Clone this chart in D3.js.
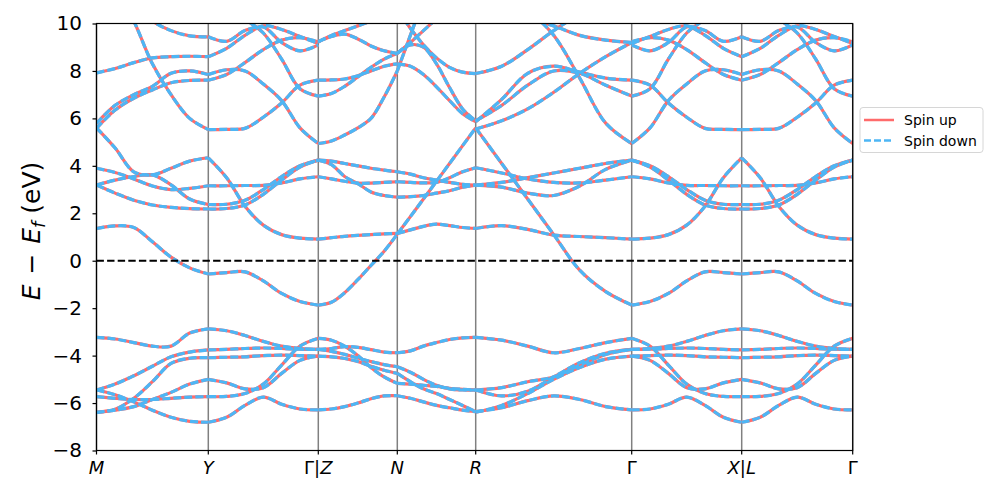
<!DOCTYPE html>
<html>
<head>
<meta charset="utf-8">
<script src="https://cdn.jsdelivr.net/npm/d3@7"></script>
<style>
  body { margin: 0; background: #fff; }
  svg { font-family: "DejaVu Sans", sans-serif; }
</style>
</head>
<body>
<div id="chart"></div>
<script>
// high-symmetry path
var kLabels = ["M", "Y", "Γ|Z", "N", "R", "Γ", "X|L", "Γ"];
var kTicks = [0, 1.118, 2.218, 3.008, 3.792, 5.352, 6.452, 7.562];
var yTicks = [-8, -6, -4, -2, 0, 2, 4, 6, 8, 10];

// band energies (eV) sampled evenly along each segment
var bandsMY = [
  [1.36, 1.47, 1.40, 0.80, 0.15, -0.30, -0.56],
  [5.6, 4.75, 3.75, 3.62, 3.9, 4.2, 4.34],
  [3.19, 3.4, 3.55, 3.62, 3.2, 2.6, 2.37],
  [3.90, 3.72, 3.45, 3.15, 3.0, 3.05, 3.16],
  [3.19, 2.85, 2.55, 2.35, 2.25, 2.2, 2.18],
  [7.92, 8.1, 8.35, 8.55, 8.6, 8.62, 8.6],
  [5.79, 6.55, 7.0, 7.35, 7.9, 8.0, 7.85],
  [5.58, 6.35, 6.85, 7.2, 7.5, 7.6, 7.61],
  [13, 11.5, 10.1, 8.3, 7.0, 6.0, 5.53],
  [12, 11.4, 10.8, 10.1, 9.7, 9.48, 9.44],
  [-3.23, -3.3, -3.45, -3.6, -3.6, -3.05, -2.87],
  [-5.45, -5.2, -4.85, -4.45, -4.05, -3.85, -3.76],
  [-6.39, -6.26, -5.8, -5.1, -4.33, -4.11, -4.09],
  [-5.73, -5.8, -5.85, -5.85, -5.8, -5.75, -5.73],
  [-5.45, -5.65, -5.95, -6.3, -6.6, -6.77, -6.81],
  [-6.39, -6.3, -6.15, -5.85, -5.55, -5.2, -5.0]
];

var bandsYZ = [
  [-0.56, -0.5, -0.47, -0.85, -1.38, -1.72, -1.87],
  [4.34, 3.5, 2.3, 1.5, 1.1, 0.95, 0.91],
  [2.37, 2.38, 2.55, 3.0, 3.55, 4.0, 4.24],
  [2.18, 2.2, 2.35, 2.8, 3.4, 3.95, 4.24],
  [3.16, 3.16, 3.17, 3.18, 3.28, 3.45, 3.54],
  [5.53, 5.54, 5.58, 6.05, 6.65, 7.4, 7.61],
  [7.85, 8.05, 8.0, 7.45, 6.75, 5.6, 4.94],
  [7.61, 7.85, 8.35, 8.9, 9.3, 9.4, 9.23],
  [8.6, 8.95, 9.5, 9.9, 9.75, 9.45, 9.16],
  [9.44, 9.25, 9.7, 9.85, 9.2, 8.85, 9.1],
  [11.5, 11, 10.2, 9.6, 8.5, 7.25, 6.94],
  [-2.87, -2.95, -3.15, -3.4, -3.6, -3.7, -3.74],
  [-3.76, -3.74, -3.7, -3.68, -3.7, -3.73, -3.74],
  [-4.09, -4.07, -4.05, -4.0, -3.98, -4.0, -4.02],
  [-5.0, -5.15, -5.4, -5.35, -4.75, -4.2, -4.02],
  [-5.73, -5.72, -5.6, -5.2, -4.4, -3.6, -3.27],
  [-6.81, -6.6, -6.1, -5.75, -6.05, -6.25, -6.29]
];

var bandsZN = [
  [-1.87, -1.75, -1.35, -0.8, -0.2, 0.4, 1.12],
  [0.91, 0.97, 1.03, 1.07, 1.1, 1.13, 1.15],
  [4.24, 4.2, 4.1, 4.0, 3.9, 3.82, 3.75],
  [4.24, 4.05, 3.55, 3.25, 2.9, 2.75, 2.68],
  [3.54, 3.45, 3.35, 3.27, 3.27, 3.3, 3.33],
  [4.94, 5.05, 5.3, 5.6, 6.0, 6.9, 8.0],
  [6.94, 7.05, 7.35, 7.75, 8.15, 8.5, 8.74],
  [7.61, 7.62, 7.66, 7.8, 8.0, 8.2, 8.3],
  [9.23, 9.45, 9.55, 9.35, 9.05, 8.85, 8.74],
  [9.23, 9.5, 9.7, 9.9, 10.1, 10.3, 10.5],
  [-3.27, -3.35, -3.6, -4.0, -4.5, -4.9, -5.17],
  [-3.74, -3.7, -3.62, -3.65, -3.75, -3.85, -3.88],
  [-3.74, -3.82, -3.95, -4.1, -4.25, -4.38, -4.47],
  [-4.02, -4.05, -4.12, -4.25, -4.45, -4.62, -4.75],
  [-6.29, -6.25, -6.15, -6.0, -5.82, -5.7, -5.69]
];

var bandsNR = [
  [1.12, 1.86, 2.6, 3.35, 4.1, 4.85, 5.6],
  [1.15, 1.3, 1.45, 1.54, 1.48, 1.4, 1.36],
  [3.75, 3.65, 3.5, 3.4, 3.3, 3.22, 3.19],
  [3.33, 3.3, 3.28, 3.3, 3.5, 3.75, 3.92],
  [2.68, 2.7, 2.75, 2.85, 2.95, 3.1, 3.19],
  [8.0, 9.5, 11, 12.5, 13, 13, 13],
  [8.3, 8.2, 7.85, 7.33, 6.75, 6.2, 5.86],
  [8.74, 9.1, 9.0, 8.3, 7.3, 6.4, 5.9],
  [8.74, 9.2, 9.7, 10.2, 10.7, 11, 11.2],
  [10.6, 9.8, 9.1, 8.55, 8.15, 7.95, 7.89],
  [-3.88, -3.8, -3.6, -3.45, -3.32, -3.25, -3.23],
  [-5.17, -5.2, -5.25, -5.3, -5.38, -5.42, -5.45],
  [-4.47, -4.7, -5.0, -5.25, -5.4, -5.45, -5.45],
  [-4.75, -5.1, -5.4, -5.6, -5.85, -6.1, -6.36],
  [-5.69, -5.8, -5.95, -6.1, -6.2, -6.3, -6.36]
];

var bandsRG = [
  [5.6, 4.1, 2.6, 1.1, -0.4, -1.3, -1.87],
  [1.36, 1.48, 1.32, 1.08, 1.02, 0.97, 0.91],
  [3.92, 3.7, 3.45, 3.3, 3.28, 3.4, 3.54],
  [3.19, 3.3, 3.5, 3.7, 3.9, 4.1, 4.24],
  [3.19, 3.1, 2.85, 2.75, 3.15, 3.85, 4.24],
  [7.89, 8.2, 8.9, 9.7, 10.4, 11, 11.5],
  [5.86, 6.8, 7.9, 8.2, 7.95, 7.7, 7.61],
  [5.55, 5.9, 6.4, 7.1, 7.9, 8.6, 9.2],
  [5.9, 6.55, 7.4, 8.0, 7.9, 7.4, 6.94],
  [12.5, 11.5, 10.6, 9.5, 7.7, 5.8, 4.94],
  [11, 10.6, 10.2, 9.9, 9.5, 9.3, 9.2],
  [-3.23, -3.35, -3.6, -3.88, -3.7, -3.45, -3.27],
  [-5.45, -5.35, -5.1, -4.9, -4.4, -3.95, -3.74],
  [-5.45, -5.7, -5.5, -4.9, -4.3, -3.9, -3.74],
  [-6.39, -6.1, -5.6, -5.0, -4.5, -4.15, -4.02],
  [-6.36, -6.2, -5.9, -5.7, -5.85, -6.15, -6.29]
];

// Γ-X mirrors Y-Γ, and L-Γ repeats it
var bandsGX = bandsYZ.map(function (b) { return b.slice().reverse(); });
var bandsLG = bandsYZ;

var segments = [bandsMY, bandsYZ, bandsZN, bandsNR, bandsRG, bandsGX, bandsLG];

var width = 997, height = 498;
var plotL = 96.5, plotR = 852.7, plotT = 23.5, plotB = 450.5;
var upColor = "#ff6b6b", downColor = "#4db6f5";

var svg = d3.select("#chart").append("svg")
  .attr("width", width)
  .attr("height", height);

var x = d3.scaleLinear().domain([0, kTicks[kTicks.length - 1]]).range([plotL, plotR]);
var y = d3.scaleLinear().domain([-8, 10]).range([plotB, plotT]);

svg.append("clipPath").attr("id", "plot")
  .append("rect")
  .attr("x", plotL).attr("y", plotT)
  .attr("width", plotR - plotL).attr("height", plotB - plotT);

// vertical lines at high-symmetry points
svg.append("g").selectAll("line")
  .data(kTicks)
  .enter().append("line")
  .attr("x1", function (d) { return x(d); })
  .attr("x2", function (d) { return x(d); })
  .attr("y1", plotT).attr("y2", plotB)
  .attr("stroke", "#808080")
  .attr("stroke-width", 1.5);

// build polylines
var lines = [];
segments.forEach(function (bands, s) {
  var k0 = kTicks[s], k1 = kTicks[s + 1];
  bands.forEach(function (b) {
    var n = b.length;
    lines.push(b.map(function (e, i) { return [k0 + (k1 - k0) * i / (n - 1), e]; }));
  });
});

var line = d3.line()
  .x(function (d) { return x(d[0]); })
  .y(function (d) { return y(d[1]); })
  .curve(d3.curveCatmullRom.alpha(0.5));

var bandsG = svg.append("g").attr("clip-path", "url(#plot)");

bandsG.selectAll("path.up")
  .data(lines)
  .enter().append("path")
  .attr("class", "up")
  .attr("d", line)
  .attr("fill", "none")
  .attr("stroke", upColor)
  .attr("stroke-width", 3.2);

bandsG.selectAll("path.down")
  .data(lines)
  .enter().append("path")
  .attr("class", "down")
  .attr("d", line)
  .attr("fill", "none")
  .attr("stroke", downColor)
  .attr("stroke-width", 3.2)
  .attr("stroke-dasharray", "8,3");

// Fermi level
svg.append("line")
  .attr("x1", plotL).attr("x2", plotR)
  .attr("y1", y(0)).attr("y2", y(0))
  .attr("stroke", "#000")
  .attr("stroke-width", 2)
  .attr("stroke-dasharray", "7.4,3.2");

// frame
svg.append("rect")
  .attr("x", plotL).attr("y", plotT)
  .attr("width", plotR - plotL).attr("height", plotB - plotT)
  .attr("fill", "none")
  .attr("stroke", "#000")
  .attr("stroke-width", 1.2);

// y axis
var yAxis = d3.axisLeft(y)
  .tickValues(yTicks)
  .tickSize(4)
  .tickPadding(10.5)
  .tickFormat(function (d) { return d < 0 ? "\u2212" + Math.abs(d) : d; });

var yg = svg.append("g")
  .attr("transform", "translate(" + plotL + ",0)")
  .call(yAxis);
yg.select(".domain").remove();
yg.selectAll("text")
  .attr("font-size", 20)
  .attr("font-family", "DejaVu Sans")
  .attr("fill", "#000");
yg.selectAll("line").attr("stroke", "#000").attr("stroke-width", 1.2);

// x ticks
var xg = svg.append("g");
xg.selectAll("line")
  .data(kTicks)
  .enter().append("line")
  .attr("x1", function (d) { return x(d); })
  .attr("x2", function (d) { return x(d); })
  .attr("y1", plotB).attr("y2", plotB + 4)
  .attr("stroke", "#000")
  .attr("stroke-width", 1.2);

var xt = xg.selectAll("text")
  .data(kLabels)
  .enter().append("text")
  .attr("x", function (d, i) { return x(kTicks[i]); })
  .attr("y", plotB + 23)
  .attr("text-anchor", "middle")
  .attr("font-size", 18);

xt.each(function (d) {
  var t = d3.select(this);
  // Greek letters and bars upright, Latin letters italic
  d.split("").forEach(function (ch) {
    var italic = /[A-Z]/.test(ch);
    t.append("tspan")
      .attr("font-style", italic ? "italic" : "normal")
      .text(ch);
  });
});

// y label
var yl = svg.append("text")
  .attr("transform", "translate(40,231) rotate(-90)")
  .attr("text-anchor", "middle")
  .attr("font-size", 25);
yl.append("tspan").attr("font-style", "italic").text("E");
yl.append("tspan").attr("dx", 2).text(" \u2212 ");
yl.append("tspan").attr("dx", 2).attr("font-style", "italic").text("E");
yl.append("tspan").attr("font-style", "italic").attr("font-size", 18).attr("dy", 5).text("f");
yl.append("tspan").attr("dy", -5).text(" (eV)");

// legend
var lg = svg.append("g").attr("transform", "translate(860,107.5)");
lg.append("rect")
  .attr("width", 123).attr("height", 45)
  .attr("rx", 3)
  .attr("fill", "#fff")
  .attr("stroke", "#d6d6d6")
  .attr("stroke-width", 1);

var legendItems = [
  { label: "Spin up", color: upColor, dash: null },
  { label: "Spin down", color: downColor, dash: "7,3" }
];
legendItems.forEach(function (d, i) {
  var yy = 12.5 + i * 20.5;
  lg.append("line")
    .attr("x1", 4).attr("x2", 34)
    .attr("y1", yy).attr("y2", yy)
    .attr("stroke", d.color)
    .attr("stroke-width", 2.5)
    .attr("stroke-dasharray", d.dash);
  lg.append("text")
    .attr("x", 44).attr("y", yy + 5)
    .attr("font-size", 14)
    .text(d.label);
});
</script>
</body>
</html>
